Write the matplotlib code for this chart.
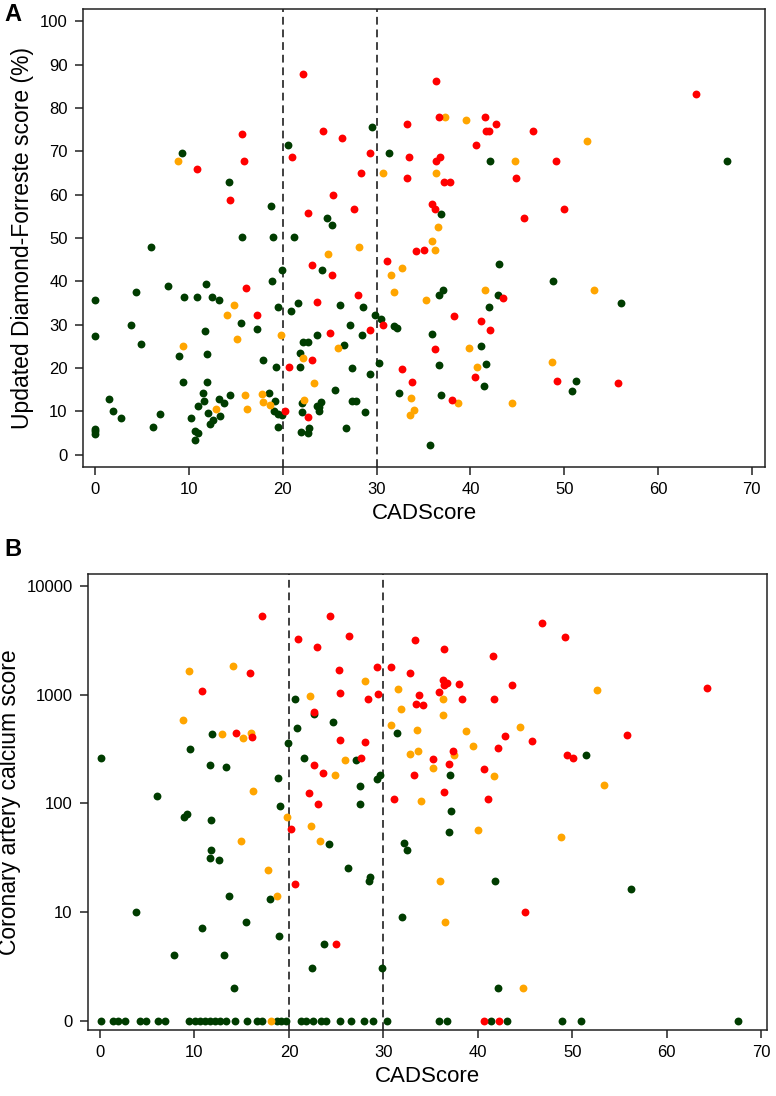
import numpy as np
import matplotlib
matplotlib.use("Agg")
import matplotlib.pyplot as plt

plt.rcParams['font.family'] = ['Liberation Sans', 'DejaVu Sans']

GREEN = '#003c00'
ORANGE = '#ffa500'
RED = '#ff0000'

# ---- Panel A: CADScore vs Updated Diamond-Forrester score (%) ----
a_red_x = [22.1, 15.7, 21.0, 10.8, 15.9, 14.4, 22.7, 36.3, 36.7, 41.5, 42.7, 41.7, 42.0, 46.7,
           33.2, 24.3, 26.3, 40.6, 29.3, 33.4, 36.8, 36.3, 28.3, 33.2, 37.2, 37.8, 44.9, 25.4,
           27.6, 35.9, 36.2, 45.7, 64.0, 49.1, 50.0, 23.1, 16.1, 17.3, 23.6, 23.1, 20.7, 20.2,
           22.7, 25.2, 34.2, 35.1, 31.1, 43.5, 38.2, 41.1, 42.1, 28.0, 30.7, 29.3, 25.0, 32.7,
           36.2, 33.8, 38.0, 40.5, 49.2, 55.7]
a_red_y = [87.7, 74.0, 68.7, 65.9, 67.7, 58.8, 55.8, 86.2, 77.9, 77.9, 76.4, 74.7, 74.7, 74.7,
           76.4, 74.7, 73.1, 71.4, 69.7, 68.7, 68.7, 67.7, 65.0, 63.8, 62.9, 62.9, 63.8, 59.9,
           56.7, 57.9, 56.7, 54.7, 83.1, 67.7, 56.7, 43.8, 38.5, 32.3, 35.2, 21.9, 20.3, 10.1,
           8.8, 41.5, 46.9, 47.3, 44.7, 36.2, 32.1, 30.9, 28.8, 36.9, 29.9, 28.8, 28.2, 19.8,
           24.3, 16.9, 12.7, 18.0, 17.1, 16.5]

a_orange_x = [8.8, 37.3, 39.5, 44.7, 30.7, 36.3, 36.5, 35.9, 36.2, 52.4, 14.8, 14.1, 19.8, 15.1,
              9.4, 22.2, 23.3, 16.0, 17.8, 17.9, 18.6, 22.3, 12.9, 16.2, 28.1, 24.8, 32.7, 31.5,
              31.9, 35.3, 41.6, 25.9, 38.7, 33.7, 34.0, 33.6, 39.9, 40.7, 44.4, 53.2, 48.7]
a_orange_y = [67.7, 77.9, 77.2, 67.7, 65.0, 65.0, 52.6, 49.3, 47.2, 72.3, 34.6, 32.3, 27.6, 26.7,
              25.2, 22.4, 16.5, 13.7, 14.1, 12.1, 11.5, 12.6, 10.5, 10.5, 47.9, 46.2, 43.0, 41.5,
              37.6, 35.6, 37.9, 24.7, 11.9, 13.0, 10.4, 9.2, 24.7, 20.3, 11.9, 37.9, 21.3]

a_green_x = [20.6, 9.2, 14.3, 18.7, 15.6, 19.0, 21.2, 29.5, 31.3, 42.1, 24.7, 25.2, 36.9, 67.3,
             6.0, 19.9, 4.3, 7.8, 11.8, 18.9, 0.0, 9.5, 10.9, 12.5, 13.2, 19.5, 20.9, 21.6,
             3.8, 15.5, 17.3, 11.7, 0.0, 4.9, 23.6, 22.1, 22.7, 8.9, 11.9, 21.8, 17.9, 19.3,
             21.8, 9.4, 11.9, 11.5, 1.5, 14.4, 18.5, 11.6, 13.2, 13.7, 19.2, 22.0, 23.6, 11.0,
             1.9, 6.9, 12.0, 19.1, 19.5, 19.9, 22.0, 2.7, 10.2, 13.3, 12.6, 12.2, 6.2, 19.5,
             0.0, 0.0, 0.0, 10.6, 11.0, 10.6, 21.9, 22.8, 22.7, 23.9, 24.2, 37.1, 36.6, 43.0,
             42.9, 42.0, 26.1, 28.6, 29.8, 30.5, 31.8, 32.2, 27.2, 28.4, 26.5, 27.4, 29.3, 30.3,
             35.9, 36.7, 25.6, 32.4, 36.9, 41.1, 41.7, 41.4, 23.9, 24.1, 27.4, 27.8, 28.8, 26.7,
             35.7, 48.8, 56.1, 51.3, 50.8]
a_green_y = [71.4, 69.7, 63.0, 57.4, 50.3, 50.3, 50.3, 75.5, 69.7, 67.7, 54.7, 52.9, 55.5, 67.7,
             47.9, 42.6, 37.6, 38.9, 39.5, 40.0, 35.6, 36.4, 36.4, 36.4, 35.6, 34.0, 33.2, 35.1,
             29.9, 30.3, 29.0, 28.6, 27.3, 25.6, 27.7, 26.0, 26.1, 22.8, 23.3, 23.6, 21.9, 20.3,
             20.3, 16.8, 16.8, 14.3, 12.8, 13.7, 14.3, 12.5, 12.8, 11.9, 12.5, 11.9, 11.3, 11.2,
             10.2, 9.4, 9.6, 10.2, 9.4, 9.1, 9.8, 8.4, 8.4, 8.9, 8.1, 7.1, 6.5, 6.5,
             6.0, 5.4, 4.8, 5.5, 5.0, 3.5, 5.2, 6.1, 5.1, 10.0, 42.6, 37.9, 36.8, 44.0,
             36.9, 34.0, 34.6, 34.0, 32.2, 31.3, 29.8, 29.3, 29.9, 27.6, 25.3, 20.1, 18.7, 21.1,
             27.8, 20.7, 14.9, 14.3, 13.7, 25.2, 21.0, 15.8, 11.0, 12.1, 12.5, 12.5, 9.8, 6.3,
             2.3, 40.0, 35.0, 17.1, 14.7]

# ---- Panel B: CADScore vs coronary artery calcium score ----
b_red_x = [17.2, 21.0, 23.0, 15.9, 10.8, 22.7, 14.4, 16.1, 22.7, 24.3, 26.4, 33.3, 36.4, 41.6,
           46.8, 25.3, 29.3, 30.8, 32.8, 36.3, 36.7, 36.4, 38.0, 43.6, 25.4, 29.4, 28.4, 33.8,
           35.9, 33.5, 34.2, 38.3, 41.7, 42.9, 45.7, 42.1, 25.4, 28.1, 37.4, 27.6, 23.6, 35.2,
           36.9, 40.6, 33.2, 49.2, 64.2, 55.8, 49.4, 50.1, 22.1, 23.1, 20.2, 20.6, 31.1, 36.4,
           41.1, 45.0, 25.0, 40.6, 42.2]
b_red_y = [5250, 3240, 2750, 1590, 1080, 690, 445, 405, 224, 5250, 3460, 3170, 2630, 2240,
           4600, 1680, 1780, 1800, 1590, 1350, 1290, 1230, 1260, 1230, 1030, 1020, 910, 990,
           1060, 810, 800, 900, 910, 415, 375, 325, 385, 365, 300, 260, 191, 255,
           230, 208, 182, 3400, 1150, 425, 280, 260, 123, 98, 58, 18, 110, 126,
           109, 10, 5, 0, 0]

b_orange_x = [9.4, 14.1, 22.2, 8.75, 12.9, 15.1, 16.0, 28.1, 31.5, 36.3, 31.9, 36.3, 30.8, 33.6,
              38.7, 44.5, 39.5, 33.7, 32.8, 37.5, 25.9, 24.9, 35.3, 41.7, 52.6, 16.2, 19.8, 22.3,
              23.3, 14.9, 17.8, 18.7, 18.1, 34.0, 40.0, 36.0, 36.5, 44.8, 53.3, 48.8]
b_orange_y = [1650, 1820, 970, 580, 430, 400, 440, 1340, 1120, 900, 730, 650, 520, 470,
              460, 500, 337, 300, 285, 280, 250, 180, 210, 178, 1100, 129, 75, 62,
              45, 45, 24, 14, 0, 104, 57, 19, 8, 2, 147, 49]

b_green_x = [20.6, 22.6, 20.9, 11.9, 19.9, 0.07, 9.5, 11.6, 13.3, 21.6, 18.8, 24.7, 31.4, 27.1,
             37.0, 29.6, 29.3, 51.4, 6.0, 19.0, 8.9, 9.2, 11.7, 11.8, 11.6, 12.6, 13.7, 18.0,
             3.8, 15.5, 10.8, 18.9, 7.8, 13.1, 22.4, 14.2, 27.5, 27.5, 37.2, 36.9, 24.2, 26.2,
             28.6, 28.5, 32.2, 32.5, 41.8, 32.0, 23.7, 29.8, 42.1, 56.2,
             0.07, 1.4, 1.9, 2.6, 4.2, 4.9, 6.1, 6.9, 9.4, 10.1, 10.6, 11.1, 11.6, 12.2,
             12.7, 13.3, 14.3, 15.6, 16.6, 17.2, 18.7, 19.2, 19.7, 21.3, 21.8, 22.5, 23.4, 23.9,
             25.4, 26.6, 27.9, 28.9, 30.4, 35.9, 36.7, 41.4, 43.1, 48.9, 50.9, 67.5]
b_green_y = [915, 660, 490, 430, 360, 258, 318, 225, 216, 258, 169, 560, 445, 250,
             182, 183, 166, 275, 117, 94, 75, 80, 70, 37, 31, 30, 14, 13,
             10, 8, 7, 6, 4, 4, 3, 2, 145, 98, 85, 54, 42, 25,
             21, 19, 43, 37, 19, 9, 5, 3, 2, 16,
             0, 0, 0, 0, 0, 0, 0, 0, 0, 0, 0, 0, 0, 0,
             0, 0, 0, 0, 0, 0, 0, 0, 0, 0, 0, 0, 0, 0,
             0, 0, 0, 0, 0, 0, 0, 0, 0, 0, 0, 0]

cutoffs = [20, 30]
x_ticks = [0, 10, 20, 30, 40, 50, 60, 70]
a_y_ticks = [0, 10, 20, 30, 40, 50, 60, 70, 80, 90, 100]
b_y_ticks = [0, 10, 100, 1000, 10000]

EPS = 0.01


# log axis where a score of 0 sits on the "1" position
def cac_forward(v):
    v = np.asarray(v, dtype=float)
    return np.where(v >= 1, np.log10(np.maximum(v, 1)), (v - 1) * EPS)


def cac_inverse(t):
    t = np.asarray(t, dtype=float)
    return np.where(t >= 0, 10 ** np.maximum(t, 0), 1 + t / EPS)


def style_axes(ax):
    for s in ax.spines.values():
        s.set_linewidth(1.1)
        s.set_color('#222222')
    ax.tick_params(direction='out', length=6, width=1.1, pad=5, labelsize=12, color='#222222')
    ax.minorticks_off()


fig = plt.figure(figsize=(7.76, 10.96), dpi=100)
axA = fig.add_axes([83 / 776, 1 - 467 / 1096, 682 / 776, 458 / 1096])
axB = fig.add_axes([88 / 776, 1 - 1030 / 1096, 679 / 776, 456 / 1096])

ms = 32
for ax, gx, gy, ox, oy, rx, ry in [(axA, a_green_x, a_green_y, a_orange_x, a_orange_y, a_red_x, a_red_y),
                                  (axB, b_green_x, b_green_y, b_orange_x, b_orange_y, b_red_x, b_red_y)]:
    if ax is axB:
        ax.set_yscale('function', functions=(cac_forward, cac_inverse))
    ax.scatter(gx, gy, s=ms, color=GREEN, linewidths=0, zorder=3)
    ax.scatter(ox, oy, s=ms, color=ORANGE, linewidths=0, zorder=3)
    ax.scatter(rx, ry, s=ms, color=RED, linewidths=0, zorder=3)
    for c in cutoffs:
        ax.axvline(c, color='#404040', linestyle=(0, (4, 2.5)), linewidth=1.4, zorder=2)
    ax.set_xticks(x_ticks)
    ax.set_xlabel('CADScore', fontsize=16, labelpad=4)
    style_axes(ax)

axA.set_xlim(-1.3, 71.4)
axA.set_ylim(-2.8, 102.8)
axA.set_yticks(a_y_ticks)
axA.set_ylabel('Updated Diamond-Forreste score (%)', fontsize=16.5, labelpad=4)

axB.set_xlim(-1.27, 70.6)
axB.set_ylim(cac_inverse(-0.09), cac_inverse(4.11))
axB.set_yticks(b_y_ticks)
axB.set_yticklabels([str(t) for t in b_y_ticks])
axB.minorticks_off()
axB.set_ylabel('Coronary artery calcium score', fontsize=16.5, labelpad=4)

fig.text(0.006, 0.997, 'A', fontsize=17, fontweight='bold', va='top', ha='left')
fig.text(0.006, 1 - 538 / 1096, 'B', fontsize=17, fontweight='bold', va='top', ha='left')

fig.savefig('out.png', dpi=100)
